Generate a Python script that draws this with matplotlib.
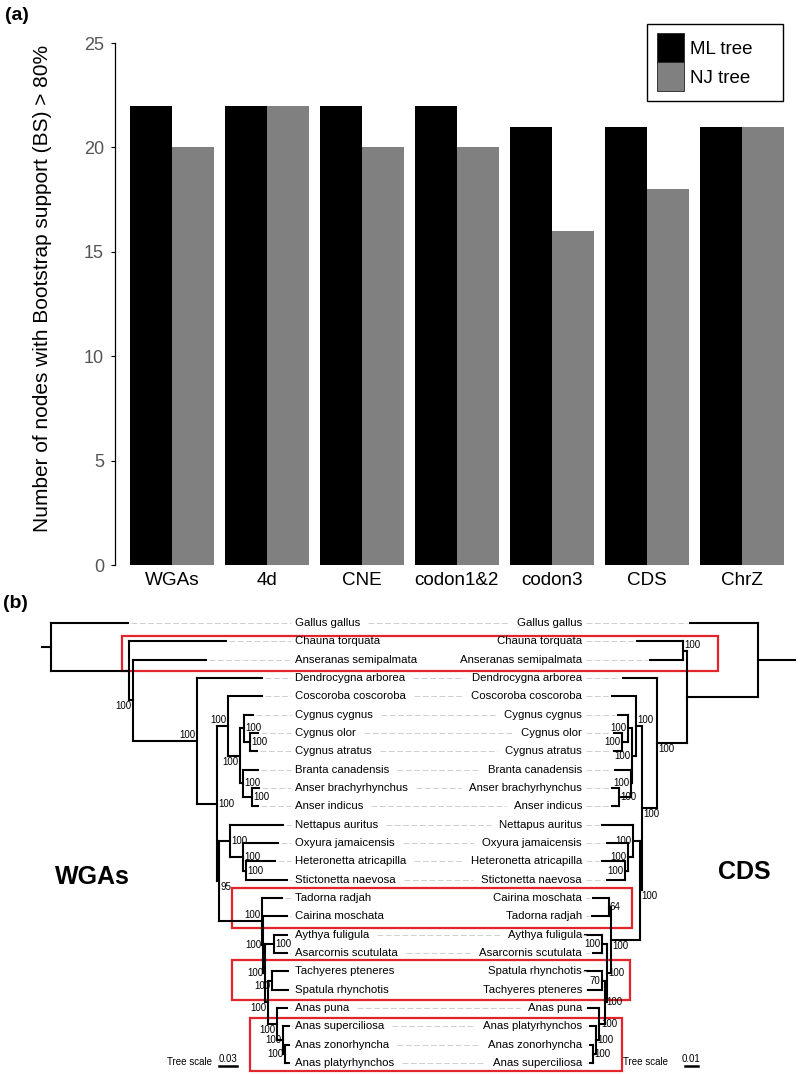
import numpy as np
import matplotlib
matplotlib.use('Agg')
import matplotlib.pyplot as plt
from matplotlib.patches import Patch, Rectangle

plt.rcParams['font.family'] = ['Liberation Sans', 'DejaVu Sans']

# ---- panel (a) data
datasets = ['WGAs', '4d', 'CNE', 'codon1&2', 'codon3', 'CDS', 'ChrZ']
ml_nodes = [22, 22, 22, 22, 21, 21, 21]
nj_nodes = [20, 22, 20, 20, 16, 18, 21]

# ---- panel (b) data: taxa in row order for both trees
left_taxa = ['Gallus gallus', 'Chauna torquata', 'Anseranas semipalmata', 'Dendrocygna arborea',
             'Coscoroba coscoroba', 'Cygnus cygnus', 'Cygnus olor', 'Cygnus atratus',
             'Branta canadensis', 'Anser brachyrhynchus', 'Anser indicus', 'Nettapus auritus',
             'Oxyura jamaicensis', 'Heteronetta atricapilla', 'Stictonetta naevosa', 'Tadorna radjah',
             'Cairina moschata', 'Aythya fuligula', 'Asarcornis scutulata', 'Tachyeres pteneres',
             'Spatula rhynchotis', 'Anas puna', 'Anas superciliosa', 'Anas zonorhyncha',
             'Anas platyrhynchos']
right_taxa = ['Gallus gallus', 'Chauna torquata', 'Anseranas semipalmata', 'Dendrocygna arborea',
              'Coscoroba coscoroba', 'Cygnus cygnus', 'Cygnus olor', 'Cygnus atratus',
              'Branta canadensis', 'Anser brachyrhynchus', 'Anser indicus', 'Nettapus auritus',
              'Oxyura jamaicensis', 'Heteronetta atricapilla', 'Stictonetta naevosa', 'Cairina moschata',
              'Tadorna radjah', 'Aythya fuligula', 'Asarcornis scutulata', 'Spatula rhynchotis',
              'Tachyeres pteneres', 'Anas puna', 'Anas platyrhynchos', 'Anas zonorhyncha',
              'Anas superciliosa']

# distance of each tip from the root (substitutions/site)
left_tip_len = [0.128, 0.292, 0.258, 0.352, 0.352, 0.337, 0.345, 0.343, 0.345, 0.347, 0.345,
                0.387, 0.378, 0.373, 0.393, 0.385, 0.393, 0.393, 0.393, 0.395, 0.395, 0.393,
                0.397, 0.397, 0.397]
right_tip_len = [0.052, 0.093, 0.083, 0.104, 0.112, 0.108, 0.111, 0.111, 0.110, 0.112, 0.112,
                 0.120, 0.116, 0.120, 0.116, 0.127, 0.128, 0.133, 0.127, 0.133, 0.131, 0.131,
                 0.129, 0.129, 0.129]

# internal nodes: (name, child1, child2, depth, support, label side)
left_nodes = [
    ('K', 6, 7, 0.332, '100', 'rc'), ('I', 5, 'K', 0.322, '100', 'rc'),
    ('L', 9, 10, 0.335, '100', 'rc'), ('J', 8, 'L', 0.320, '100', 'rc'),
    ('H', 'I', 'J', 0.315, '100', 'ld'), ('F', 4, 'H', 0.295, '100', 'lu'),
    ('P', 13, 14, 0.325, '100', 'rc'), ('O', 12, 'P', 0.320, '100', 'rc'),
    ('M', 11, 'O', 0.298, '100', 'rc'),
    ('Y', 23, 24, 0.390, '100', 'lc'), ('X', 22, 'Y', 0.387, '100', 'lc'),
    ('W', 21, 'X', 0.377, '100', 'ld'), ('V', 19, 20, 0.368, '100', 'ld'),
    ('U', 'V', 'W', 0.362, '100', 'ld'), ('S', 17, 18, 0.372, '100', 'rc'),
    ('R', 'S', 'U', 0.357, '100', 'lc'), ('Q', 16, 'R', 0.353, '100', 'lc'),
    ('N', 15, 'Q', 0.352, '100', 'lu'), ('G', 'M', 'N', 0.280, '95', 'rd'),
    ('E', 'F', 'G', 0.277, '100', 'rc'), ('D', 3, 'E', 0.243, '100', 'lu'),
    ('C', 2, 'D', 0.137, '100', 'ld'), ('B', 1, 'C', 0.130, '', ''),
    ('A', 0, 'B', 0.0, '', ''),
]
right_nodes = [
    ('K', 6, 7, 0.105, '100', 'lc'), ('I', 5, 'K', 0.100, '100', 'lc'),
    ('L', 9, 10, 0.107, '100', 'rc'), ('J', 8, 'L', 0.098, '100', 'lc'),
    ('H', 'I', 'J', 0.097, '100', 'lc'), ('F', 4, 'H', 0.094, '100', 'ru'),
    ('P', 13, 14, 0.102, '100', 'lc'), ('O', 12, 'P', 0.100, '100', 'lc'),
    ('M', 11, 'O', 0.096, '100', 'lc'), ('T', 15, 16, 0.115, '64', 'rc'),
    ('S', 17, 18, 0.120, '100', 'lc'), ('V', 19, 20, 0.120, '70', 'lc'),
    ('Y', 23, 24, 0.127, '100', 'rc'), ('X', 22, 'Y', 0.125, '100', 'rc'),
    ('W', 21, 'X', 0.122, '100', 'rc'), ('U', 'V', 'W', 0.118, '100', 'rc'),
    ('R', 'S', 'U', 0.116, '100', 'rc'), ('Q', 'T', 'R', 0.113, '100', 'rd'),
    ('G', 'M', 'Q', 0.091, '100', 'rd'), ('E', 'F', 'G', 0.089, '100', 'rd'),
    ('D', 3, 'E', 0.078, '100', 'rd'), ('C', 1, 2, 0.058, '100', 'ru'),
    ('B', 'C', 'D', 0.055, '', ''), ('A', 0, 'B', 0.0, '', ''),
]
no_link_rows = [1, 2, 15, 16, 19, 20]
# red boxes: (top row, bottom row, left x, right x)
boxes = [(0.72, 2.62, 122, 718), (14.47, 16.63, 232, 632),
         (18.4, 20.57, 232, 630), (21.55, 24.45, 250, 622)]

fig = plt.figure(figsize=(8, 10.74), dpi=100)

# ---------------- panel (a)
ax = fig.add_axes([115 / 800, 1 - 565 / 1074, 680 / 800, 522 / 1074])
x = np.arange(len(datasets))
w = 0.442
ax.bar(x - w / 2, ml_nodes, w, color='black')
ax.bar(x + w / 2, nj_nodes, w, color='#808080')
ax.set_xlim(-0.6, 6.56)
ax.set_ylim(0, 25)
ax.set_yticks([0, 5, 10, 15, 20, 25])
ax.set_xticks(x, datasets)
ax.tick_params(axis='x', length=0, pad=5, labelsize=13.6)
ax.tick_params(axis='y', length=3, width=0.8, pad=5, labelsize=13, labelcolor='#555555')
for s in ['top', 'right', 'bottom']:
    ax.spines[s].set_visible(False)
ax.spines['left'].set_bounds(0, 25)
ax.spines['left'].set_linewidth(0.9)
ax.set_ylabel('Number of nodes with Bootstrap support (BS) > 80%', fontsize=15)
ax.yaxis.set_label_coords(-0.092, 0.53)
leg = ax.legend(handles=[Patch(facecolor='black', edgecolor='#222222', lw=0.6),
                         Patch(facecolor='#808080', edgecolor='#222222', lw=0.6)],
                labels=['ML tree    ', 'NJ tree    '], loc='upper right',
                bbox_to_anchor=(783 / 800, 1 - 24 / 1074), bbox_transform=fig.transFigure,
                fontsize=13.5, fancybox=False, edgecolor='black', framealpha=1,
                borderpad=0.5, handlelength=1.45, handleheight=2.0, labelspacing=0,
                handletextpad=0.33, borderaxespad=0)
leg.get_frame().set_linewidth(1.0)
fig.text(5 / 800, 1 - 15 / 1074, '(a)', fontsize=14, fontweight='bold', va='center')

# ---------------- panel (b)
bx = fig.add_axes([0, 0, 1, 484 / 1074])
bx.set_xlim(0, 800)
bx.set_ylim(24.6, -1.8)
bx.axis('off')
fig.text(3 / 800, 1 - 603 / 1074, '(b)', fontsize=14, fontweight='bold', va='center')


def left_x(d):
    return 51 + d * 600


def right_x(d):
    return 758 - d * 1300


def draw_tree(tips, nodes, to_x, stub_x):
    xs = {i: to_x(d) for i, d in enumerate(tips)}
    ys = {i: float(i) for i in range(len(tips))}
    kw = dict(color='black', lw=1.5, solid_capstyle='projecting')
    for name, c1, c2, d, sup, side in nodes:
        nx = to_x(d)
        ny = (ys[c1] + ys[c2]) / 2
        xs[name], ys[name] = nx, ny
        bx.plot([nx, nx], [ys[c1], ys[c2]], **kw)
        for c in (c1, c2):
            bx.plot([nx, xs[c]], [ys[c], ys[c]], **kw)
        if sup:
            ha = 'right' if side[0] == 'l' else 'left'
            tx = nx - 1.5 if side[0] == 'l' else nx + 1.5
            va = {'u': 'bottom', 'd': 'top', 'c': 'center'}[side[1]]
            ty = ny + {'u': -0.05, 'd': 0.05, 'c': 0.0}[side[1]]
            bx.text(tx, ty, sup, ha=ha, va=va, fontsize=7)
    root = nodes[-1][0]
    bx.plot([stub_x, xs[root]], [ys[root], ys[root]], **kw)
    return xs


lxs = draw_tree(left_tip_len, left_nodes, left_x, 42)
rxs = draw_tree(right_tip_len, right_nodes, right_x, 795)

dash = dict(color='#c8c8c8', lw=0.6, ls=(0, (7, 3)))
renderer = fig.canvas.get_renderer()
for i in range(len(left_taxa)):
    tl = bx.text(295, i, left_taxa[i], ha='left', va='center', fontsize=8.2)
    tr = bx.text(582, i, right_taxa[i], ha='right', va='center', fontsize=8.2)
    bx.plot([lxs[i] + 3, 291], [i, i], **dash)
    bx.plot([586, rxs[i] - 3], [i, i], **dash)
    if i not in no_link_rows:
        x1 = tl.get_window_extent(renderer).x1
        x0 = tr.get_window_extent(renderer).x0
        x1 = bx.transData.inverted().transform((x1, 0))[0]
        x0 = bx.transData.inverted().transform((x0, 0))[0]
        if x0 - x1 > 20:
            bx.plot([x1 + 8, x0 - 8], [i, i], **dash)

for r0, r1, x0, x1 in boxes:
    bx.add_patch(Rectangle((x0, r0), x1 - x0, r1 - r0, fill=False,
                           edgecolor='#e3242b', lw=1.6))

bx.text(92, 13.86, 'WGAs', ha='center', va='center', fontsize=18, fontweight='bold')
bx.text(744, 13.6, 'CDS', ha='center', va='center', fontsize=18, fontweight='bold')

# tree scale bars
for start, label, px_per_unit, unit, txt_end in [(219, '0.03', 600, 0.03, 212),
                                                 (685, '0.01', 1300, 0.01, 668)]:
    end = start + unit * px_per_unit
    bx.plot([start, end], [24.17, 24.17], color='black', lw=1.8)
    bx.text((start + end) / 2, 24.05, label, ha='center', va='bottom', fontsize=7)
    bx.text(txt_end, 23.95, 'Tree scale', ha='right', va='center', fontsize=7)

fig.savefig('out.png', dpi=100)
